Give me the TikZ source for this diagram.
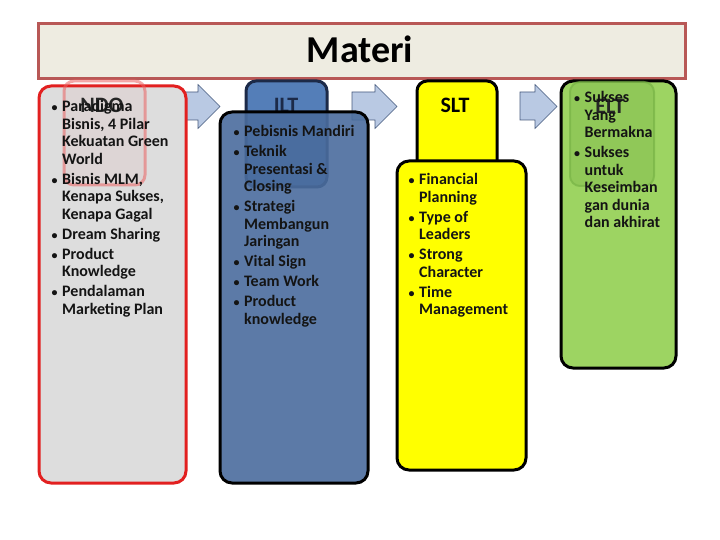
\documentclass[tikz,border=0pt]{standalone}
\usepackage{fontspec}
\setmainfont{Carlito}
\usepackage{xcolor}
\usepackage{tikz}
\usetikzlibrary{positioning,calc}
\definecolor{matbanner}{RGB}{238,236,225}
\definecolor{matbrown}{RGB}{184,88,86}
\definecolor{ndored}{RGB}{226,32,32}
\definecolor{ndogray}{RGB}{221,221,221}
\definecolor{iltblue}{RGB}{84,126,184}
\definecolor{iltdeep}{RGB}{74,108,157}
\definecolor{iltnavy}{RGB}{28,42,72}
\definecolor{sltyellow}{RGB}{255,255,0}
\definecolor{eltgreen}{RGB}{157,212,98}
\definecolor{eltdark}{RGB}{120,180,70}
\definecolor{arrowfill}{RGB}{185,201,227}
\definecolor{arrowline}{RGB}{70,90,125}
\newcommand{\bul}{\makebox[10.5pt][l]{\fontsize{12}{12}\selectfont\textbullet}}
\newcommand{\matlist}[1]{\begin{tabular}[t]{@{}l@{}l@{}}#1\end{tabular}}

\begin{document}
\begin{tikzpicture}[x=1pt,y=-1pt,
  bigbox/.style={draw=black,line width=3pt,rounded corners=12pt,anchor=north west,inner sep=0pt},
  headbox/.style={line width=3pt,rounded corners=10pt,anchor=north west,inner sep=0pt},
  headtext/.style={font=\fontsize{22}{24}\selectfont\bfseries,anchor=base,inner sep=0pt},
  list/.style={anchor=base west,inner sep=0pt,font=\fontsize{16}{17.5}\selectfont\bfseries,text=black!92},
  blockarrow/.style={fill=arrowfill,draw=arrowline,line width=.6pt}]

\path[use as bounding box] (0,0) rectangle (720,540);
\node[draw=matbrown,fill=matbanner,line width=3pt,anchor=north west,inner sep=0pt,
  minimum width=647pt,minimum height=55pt] (banner) at (36.5,22.5) {};
\node[font=\fontsize{38}{40}\selectfont\bfseries,anchor=base,inner sep=0pt] (materi) at (360,63) {Materi};

\foreach \xa/\xb in {167/220,352/397,520/557}
  \draw[blockarrow] (\xa,92) -- (\xb-22,92) -- (\xb-22,84.5) -- (\xb,106.5)
    -- (\xb-22,128.5) -- (\xb-22,120) -- (\xa,120) -- cycle;

\node[bigbox,draw=ndored,fill=ndogray,minimum width=147pt,minimum height=397pt] (ndobox) at (37.5,84.5) {};
\node[headbox,draw=ndored!70,draw opacity=.55,fill=ndored,fill opacity=.04,
  minimum width=81pt,minimum height=104pt] (ndo) at (62.5,79.5) {};

\node[headbox,draw=iltnavy,fill=iltblue,minimum width=81pt,minimum height=106pt] (ilt) at (244.5,79.5) {};
\node[headtext,text=iltnavy] (iltlabel) at (286,113) {ILT};
\node[bigbox,fill=iltdeep,fill opacity=.9,minimum width=148pt,minimum height=371pt] (iltbox) at (218.5,110.5) {};

\node[headbox,draw=black,fill=sltyellow,minimum width=80pt,minimum height=100pt] (slt) at (415.5,79.5) {};
\node[headtext] (sltlabel) at (455,113) {SLT};
\node[bigbox,fill=sltyellow,minimum width=129pt,minimum height=309pt] (sltbox) at (395.5,159.5) {};

\node[bigbox,fill=eltgreen,minimum width=115pt,minimum height=287pt] (eltbox) at (559.5,79.5) {};
\node[headbox,line width=2pt,draw=eltdark,draw opacity=.7,fill=eltdark,fill opacity=.35,
  minimum width=84pt,minimum height=104pt] (elt) at (569,81) {};
\node[headtext,text=black!85] (eltlabel) at (610,114) {ELT};
\node[headtext,text=black!85] (ndolabel) at (102,113) {NDO};

\node[list] (ndolist) at (51.5,112) {\matlist{%
  \bul & Paradigma\\ & Bisnis, 4 Pilar\\ & Kekuatan Green\\ & World\\[2.5pt]
  \bul & Bisnis MLM,\\ & Kenapa Sukses,\\ & Kenapa Gagal\\[2.5pt]
  \bul & Dream Sharing\\[2.5pt]
  \bul & Product\\ & Knowledge\\[2.5pt]
  \bul & Pendalaman\\ & Marketing Plan}};
\node[list] (iltlist) at (233.5,137) {\matlist{%
  \bul & Pebisnis Mandiri\\[2.5pt]
  \bul & Teknik\\ & Presentasi \&\\ & Closing\\[2.5pt]
  \bul & Strategi\\ & Membangun\\ & Jaringan\\[2.5pt]
  \bul & Vital Sign\\[2.5pt]
  \bul & Team Work\\[2.5pt]
  \bul & Product\\ & knowledge}};
\node[list] (sltlist) at (408.5,185) {\matlist{%
  \bul & Financial\\ & Planning\\[2.5pt]
  \bul & Type of\\ & Leaders\\[2.5pt]
  \bul & Strong\\ & Character\\[2.5pt]
  \bul & Time\\ & Management}};
\node[list] (eltlist) at (574,103) {\matlist{%
  \bul & Sukses\\ & Yang\\ & Bermakna\\[2.5pt]
  \bul & Sukses\\ & untuk\\ & Keseimban\\ & gan dunia\\ & dan akhirat}};

\end{tikzpicture}
\end{document}
